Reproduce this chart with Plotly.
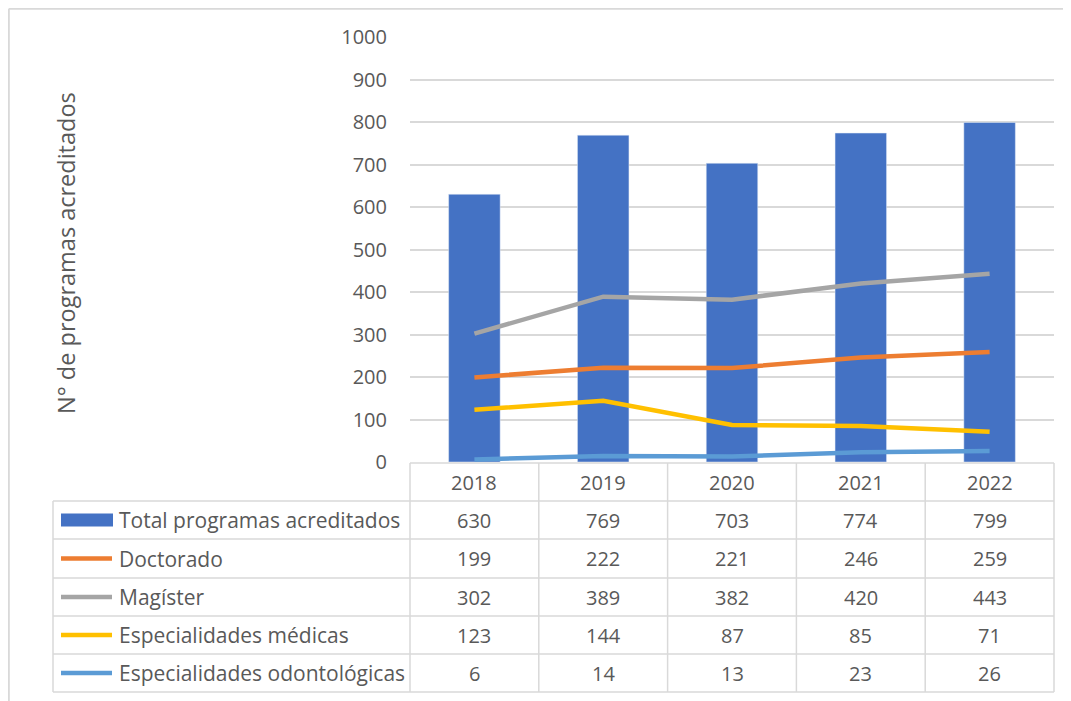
import plotly.graph_objects as go

years = ["2018", "2019", "2020", "2021", "2022"]
total = [630, 769, 703, 774, 799]
doctorado = [199, 222, 221, 246, 259]
magister = [302, 389, 382, 420, 443]
esp_medicas = [123, 144, 87, 85, 71]
esp_odonto = [6, 14, 13, 23, 26]

series_names = ["Total programas acreditados", "Doctorado", "Magíster",
                "Especialidades médicas", "Especialidades odontológicas"]
series_values = [total, doctorado, magister, esp_medicas, esp_odonto]
colors = ["#4472C4", "#ED7D31", "#A5A5A5", "#FFC000", "#5B9BD5"]

OFF = 8  # page body margin
W, H = 1071 - OFF, 701 - OFF
# plot area in reference pixel coords
L, R, T, B = 410, 1054, 37, 462
FONT = "Open Sans"
TXT = "#595959"
GRID = "#d9d9d9"

def px(x):
    return (x - L) / (R - L)

def py(y):
    return (B - y) / (B - T)

fig = go.Figure()
fig.add_trace(go.Bar(x=years, y=total, marker_color=colors[0], width=0.4,
                     name=series_names[0], showlegend=False))
for name, vals, col in zip(series_names[1:], series_values[1:], colors[1:]):
    fig.add_trace(go.Scatter(x=years, y=vals, mode="lines",
                             line=dict(color=col, width=4.5), name=name,
                             showlegend=False))

shapes = []
line_style = dict(color=GRID, width=1.5)
# outer chart border (top and left edges visible)
shapes.append(dict(type="line", xref="paper", yref="paper",
                   x0=px(8.8), x1=px(1071), y0=py(8.8), y1=py(8.8),
                   line=dict(color=GRID, width=2), layer="below"))
shapes.append(dict(type="line", xref="paper", yref="paper",
                   x0=px(8.8), x1=px(8.8), y0=py(8.8), y1=py(701),
                   line=dict(color=GRID, width=2), layer="below"))
# table horizontal lines
row_edges = [463, 501, 539, 578, 616, 654, 692]
shapes.append(dict(type="line", xref="paper", yref="paper",
                   x0=px(410), x1=px(1054), y0=py(463), y1=py(463), line=line_style))
for ye in row_edges[1:]:
    shapes.append(dict(type="line", xref="paper", yref="paper",
                       x0=px(53), x1=px(1054), y0=py(ye), y1=py(ye), line=line_style))
# vertical lines
shapes.append(dict(type="line", xref="paper", yref="paper",
                   x0=px(53), x1=px(53), y0=py(501), y1=py(692), line=line_style))
col_w = (1054 - 410) / len(years)
for i in range(len(years) + 1):
    xe = 410 + i * col_w
    shapes.append(dict(type="line", xref="paper", yref="paper",
                       x0=px(xe), x1=px(xe), y0=py(463), y1=py(692), line=line_style))

annotations = []
fs = 20
base = dict(showarrow=False, xanchor="center", yanchor="middle",
            font=dict(family=FONT, size=fs, color=TXT))
# header years
for i, yr in enumerate(years):
    annotations.append(dict(base, x=i, xref="x", y=py((463 + 501) / 2),
                            yref="paper", text=yr))
# rows
for r, (name, vals, col) in enumerate(zip(series_names, series_values, colors)):
    y0, y1 = row_edges[r + 1], row_edges[r + 2]
    yc = (y0 + y1) / 2
    if r == 0:
        shapes.append(dict(type="rect", xref="paper", yref="paper",
                           x0=px(61), x1=px(113), y0=py(yc - 6.5), y1=py(yc + 6.5),
                           fillcolor=col, line=dict(width=0)))
    else:
        shapes.append(dict(type="line", xref="paper", yref="paper",
                           x0=px(61), x1=px(112), y0=py(yc), y1=py(yc),
                           line=dict(color=col, width=4.5)))
    annotations.append(dict(base, x=px(117), xref="paper", y=py(yc), yref="paper",
                            xanchor="left", text=name,
                            font=dict(family=FONT, size=21, color=TXT)))
    for i, v in enumerate(vals):
        annotations.append(dict(base, x=i, xref="x", y=py(yc), yref="paper",
                                text=str(v)))
# y-axis title
annotations.append(dict(base, x=px(66), xref="paper", y=py(253), yref="paper",
                        text="N° de programas acreditados", textangle=-90,
                        font=dict(family=FONT, size=23.5, color=TXT)))

fig.update_layout(
    width=W, height=H,
    margin=dict(l=L - OFF, r=W - (R - OFF), t=T - OFF, b=H - (B - OFF), pad=0),
    paper_bgcolor="white", plot_bgcolor="white",
    shapes=shapes, annotations=annotations,
    xaxis=dict(type="category", range=[-0.5, len(years) - 0.5],
               showticklabels=False, showgrid=False,
               zeroline=False, showline=False, ticks=""),
    yaxis=dict(range=[0, 1000], dtick=100, showgrid=True, gridcolor=GRID,
               gridwidth=1.5, zeroline=False, showline=False, ticks="",
               ticklabelstandoff=22,
               tickfont=dict(family=FONT, size=20, color=TXT)),
)

fig.write_html(
    "out.html",
    post_script="document.documentElement.style.overflow='hidden';"
                "document.body.style.overflow='hidden';",
)
